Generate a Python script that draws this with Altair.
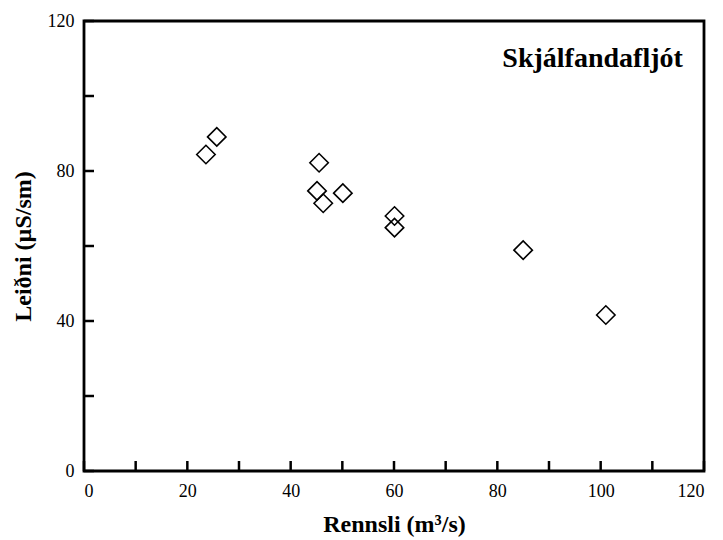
import altair as alt
import pandas as pd

# Data
rennsli = [23.6, 25.7, 45.5, 45.1, 46.3, 50.1, 60.1, 60.1, 85.0, 101.0]
leidni = [84.4, 89.1, 82.2, 74.7, 71.4, 74.1, 68.0, 64.9, 58.9, 41.6]
x_ticks = [0, 10, 20, 30, 40, 50, 60, 70, 80, 90, 100, 110, 120]
x_labels = [0, 20, 40, 60, 80, 100, 120]
y_ticks = [0, 20, 40, 60, 80, 100, 120]
y_labels = [0, 40, 80, 120]
station = "Skjálfandafljót"

FONT = "Liberation Serif"

df = pd.DataFrame({"rennsli": rennsli, "leidni": leidni})
xt = pd.DataFrame({"t": x_ticks})
yt = pd.DataFrame({"t": y_ticks})
lab = pd.DataFrame({"name": [station], "x": [115.9], "y": [107.7]})

xscale = alt.Scale(domain=[0, 120], nice=False, zero=False)
yscale = alt.Scale(domain=[0, 120], nice=False, zero=False)

xaxis = alt.Axis(values=x_labels, ticks=False, domain=False, grid=False,
                 labelFont=FONT, labelFontSize=18, labelColor="black",
                 labelPadding=11, title="Rennsli (m³/s)", titleFont=FONT,
                 titleFontSize=24, titleFontWeight="bold", titleColor="black",
                 titlePadding=12)
yaxis = alt.Axis(values=y_labels, ticks=False, domain=False, grid=False,
                 labelFont=FONT, labelFontSize=18, labelColor="black",
                 labelPadding=10, title="Leiðni (µS/sm)", titleFont=FONT,
                 titleFontSize=24, titleFontWeight="bold", titleColor="black",
                 titlePadding=12)

points = alt.Chart(df).mark_point(
    shape="diamond", filled=False, color="black", size=340, strokeWidth=1.6, opacity=1
).encode(
    x=alt.X("rennsli:Q", scale=xscale, axis=xaxis),
    y=alt.Y("leidni:Q", scale=yscale, axis=yaxis),
)

xtick_layer = alt.Chart(xt).mark_rule(color="black", strokeWidth=2.5, y2Offset=-10).encode(
    x=alt.X("t:Q", scale=xscale),
    y=alt.datum(0, scale=yscale),
    y2=alt.datum(0),
)

ytick_layer = alt.Chart(yt).mark_rule(color="black", strokeWidth=2.5, x2Offset=10).encode(
    y=alt.Y("t:Q", scale=yscale),
    x=alt.datum(0, scale=xscale),
    x2=alt.datum(0),
)

label = alt.Chart(lab).mark_text(
    font=FONT, fontSize=28, fontWeight="bold", color="black",
    align="right", baseline="alphabetic"
).encode(
    x=alt.X("x:Q", scale=xscale),
    y=alt.Y("y:Q", scale=yscale),
    text="name:N",
)

chart = alt.layer(xtick_layer, ytick_layer, points, label).properties(
    width=620, height=450,
    padding={"left": 76, "top": 13, "right": 10, "bottom": 69},
    autosize=alt.AutoSizeParams(type="none"),
    background="white",
).configure_view(
    stroke="black", strokeWidth=2.8
)

chart.save("out.html", embed_options={"renderer": "svg", "actions": False})
